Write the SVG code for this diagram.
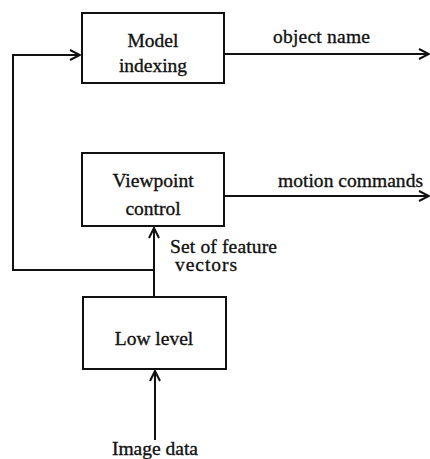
<svg xmlns="http://www.w3.org/2000/svg" width="430" height="459" viewBox="0 0 430 459">
<defs>
<style>
.box{fill:#fff;stroke:#111;stroke-width:2}
.ln{fill:none;stroke:#111;stroke-width:2}
text{font-family:"Liberation Serif","Times New Roman",serif;font-size:19.5px;fill:#111;stroke:#111;stroke-width:0.35}
.c{text-anchor:middle}
</style>
<marker id="ah" markerWidth="12" markerHeight="12" refX="11" refY="6" orient="auto" markerUnits="userSpaceOnUse">
<path d="M1,1 L11,6 L1,11" fill="none" stroke="#111" stroke-width="2"/>
</marker>
</defs>
<g id="connectors">
<path class="ln" d="M154,297 V228" marker-end="url(#ah)"/>
<path class="ln" d="M154,270 H13 V55 H80" marker-end="url(#ah)"/>
<path class="ln" d="M224,54 H429" marker-end="url(#ah)"/>
<path class="ln" d="M224,196 H429" marker-end="url(#ah)"/>
<path class="ln" d="M155,440 V371" marker-end="url(#ah)"/>
<text x="273" y="43" textLength="97">object name</text>
<text x="278" y="187" textLength="145">motion commands</text>
<text x="170" y="253" textLength="107">Set of feature</text>
<text x="175" y="271" textLength="62">vectors</text>
<text class="c" x="155" y="455">Image data</text>
</g>
<g id="model">
<rect class="box" x="82" y="13" width="142" height="70"/>
<text class="c" x="153" y="47">Model</text>
<text class="c" x="153" y="72">indexing</text>
</g>
<g id="viewpoint">
<rect class="box" x="82" y="153" width="142" height="73"/>
<text class="c" x="153" y="187">Viewpoint</text>
<text class="c" x="153" y="215">control</text>
</g>
<g id="lowlevel">
<rect class="box" x="83" y="297" width="143" height="72"/>
<text class="c" x="154" y="345">Low level</text>
</g>
</svg>
